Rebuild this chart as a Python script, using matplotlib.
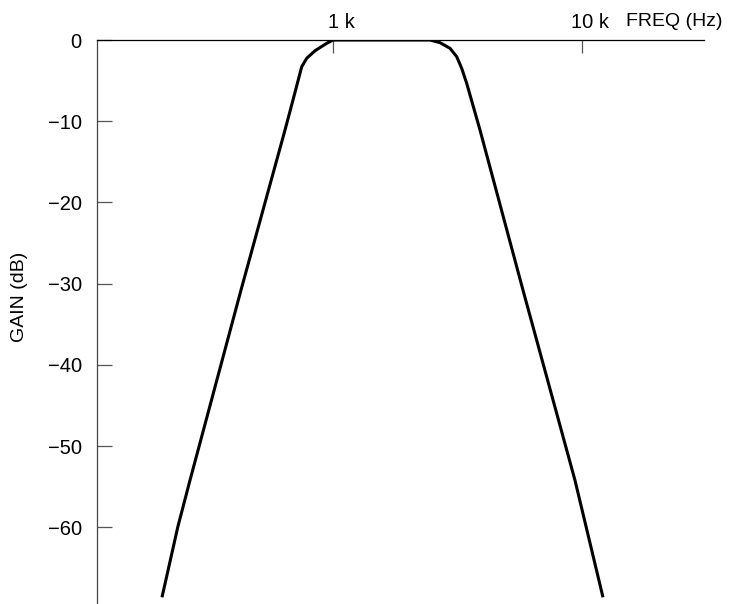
import matplotlib
matplotlib.use("Agg")
import matplotlib.pyplot as plt
import matplotlib.transforms as mtrans
from matplotlib import font_manager

# ---- data ----
freq_hz = [205.7, 238.5, 266.5, 427.0, 641.7, 690.8, 748.9, 784.2,
           846.9, 943.5, 1000.0, 2453.0, 2690.0, 2951.0, 3140.0, 3288.0, 3443.0,
           3894.0, 5796.0, 9373.0, 12143.0]
gain_db = [-68.6, -59.85, -54.2, -30.8, -11.08, -7.39, -3.29, -2.25,
           -1.32, -0.41, 0.0, 0.0, -0.33, -1.02, -2.06, -3.49, -5.33,
           -11.08, -30.8, -54.2, -68.6]
xtick_vals = [1000, 10000]
xtick_labels = ["1 k", "10 k"]
ytick_vals = [0, -10, -20, -30, -40, -50, -60]
ytick_labels = ["0", "\u221210", "\u221220", "\u221230", "\u221240", "\u221250", "\u221260"]

avail = {f.name for f in font_manager.fontManager.ttflist}
fam = ["Liberation Sans Narrow", "DejaVu Sans"] if "Liberation Sans Narrow" in avail else ["Liberation Sans", "DejaVu Sans"]
plt.rcParams['font.family'] = fam

W, H, DPI = 729, 604, 100
fig = plt.figure(figsize=(W / DPI, H / DPI), dpi=DPI)
left_px, right_px, top_px, bot_px = 97, 704, 40, 603
ax = fig.add_axes([left_px / W, 1 - bot_px / H, (right_px - left_px) / W, (bot_px - top_px) / H])

ax.plot(freq_hz, gain_db, color="black", lw=2.2, solid_capstyle="butt", solid_joinstyle="round")
ax.set_xscale("log")
ax.set_xlim(112.8, 30900)
ax.set_ylim(-69.3, 0)

for s in ["right", "bottom"]:
    ax.spines[s].set_visible(False)
ax.spines["top"].set_color("black")
ax.spines["top"].set_linewidth(0.9)
ax.spines["left"].set_color("#444444")
ax.spines["left"].set_linewidth(0.9)

ax.xaxis.tick_top()
ax.set_xticks(xtick_vals)
ax.set_xticklabels(xtick_labels)
ax.xaxis.set_minor_locator(matplotlib.ticker.NullLocator())
ax.tick_params(axis="x", which="major", direction="in", length=9.5, width=0.9,
               color="#555555", pad=6, labelsize=14.5)
offset = mtrans.ScaledTranslation(8 / DPI, 0, fig.dpi_scale_trans)
for lab in ax.get_xticklabels():
    lab.set_transform(lab.get_transform() + offset)

ax.set_yticks(ytick_vals)
ax.set_yticklabels(ytick_labels)
ax.tick_params(axis="y", direction="in", length=11, width=0.9, color="#555555",
               pad=11, labelsize=14.5)

fig.text(722 / W, 1 - 22 / H, "FREQ (Hz)", ha="right", va="center", fontsize=14)
fig.text(20 / W, 1 - 297 / H, "GAIN (dB)", ha="center", va="center", rotation=90, fontsize=14)

fig.savefig("out.png", dpi=DPI)
